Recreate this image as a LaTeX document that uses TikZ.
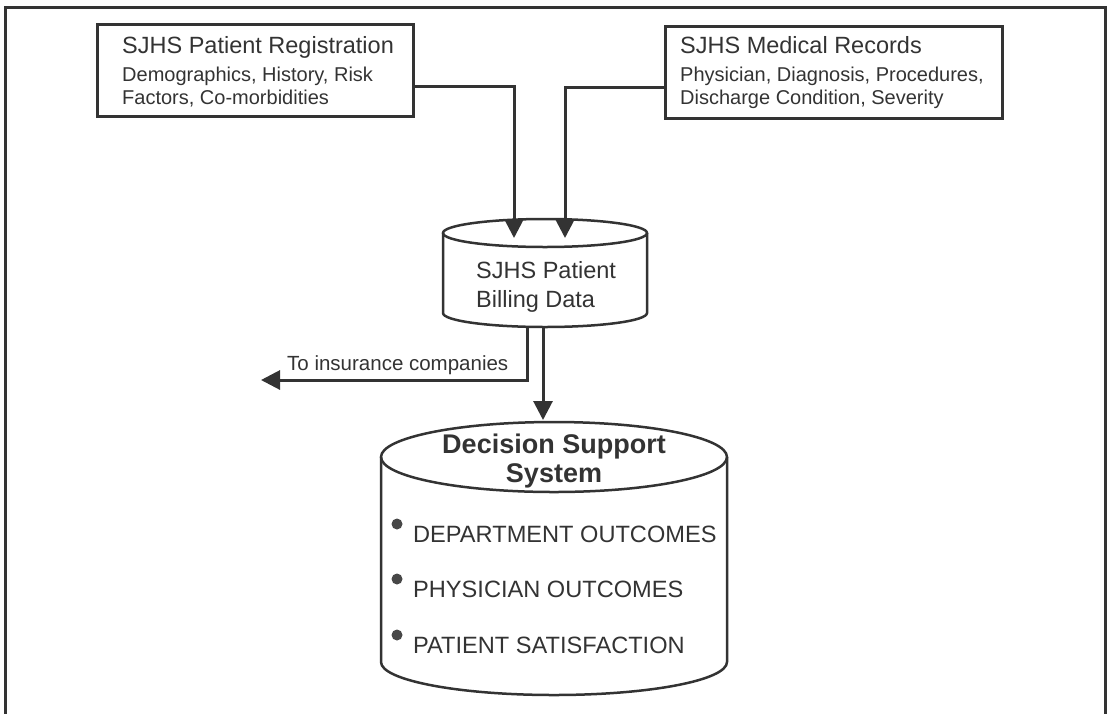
\documentclass[tikz,border=0pt]{standalone}
\usepackage{fontspec}
\setmainfont{Liberation Sans}
\usepackage{tikz}
\usetikzlibrary{calc,arrows.meta,positioning}
\definecolor{ink}{HTML}{333333}

\begin{document}
\begin{tikzpicture}[x=1pt,y=-1pt,
    every node/.style={inner sep=0pt,text=ink},
    srcbox/.style={draw=ink,line width=3pt,minimum height=92pt},
    heading/.style={anchor=base west,font=\fontsize{23.5}{27}\selectfont},
    detail/.style={anchor=base west,font=\fontsize{20}{23}\selectfont},
    item/.style={anchor=base west,font=\fontsize{23.6}{27}\selectfont},
    flow/.style={draw=ink,line width=3pt,-{Triangle[length=19pt,width=19pt]}},
    db/.style={draw=ink,line width=2.5pt}]
    \useasboundingbox (0,0) rectangle (1110,713);
    \draw[ink,line width=3pt] (5,7) rectangle (1105,722);

    % source records
    \node[srcbox,minimum width=316pt] (reg) at (255,70) {};
    \node[heading] (regT) at (122,53) {SJHS Patient Registration};
    \node[detail] (regA) at (122,81) {Demographics, History, Risk};
    \node[detail] (regB) at (122,104) {Factors, Co-morbidities};

    \node[srcbox,minimum width=337pt] (med) at (833.5,72) {};
    \node[heading] (medT) at (680,53) {SJHS Medical Records};
    \node[detail] (medA) at (680,81) {Physician, Diagnosis, Procedures,};
    \node[detail] (medB) at (680,104) {Discharge Condition, Severity};

    % billing data
    \newcommand{\bx}{545};
    \draw[db] (\bx-102,233) -- (\bx-102,313)
        arc[start angle=180,end angle=360,x radius=102pt,y radius=14pt] -- (\bx+102,233);
    \draw[db] (\bx,233) ellipse [x radius=102pt,y radius=14pt];
    \node[heading] (billA) at (476,278) {SJHS Patient};
    \node[heading] (billB) at (476,307) {Billing Data};

    % decision support
    \newcommand{\dx}{554};
    \draw[db] (\dx-173,457) -- (\dx-173,662)
        arc[start angle=180,end angle=360,x radius=173pt,y radius=33pt] -- (\dx+173,457);
    \draw[db] (\dx,457) ellipse [x radius=173pt,y radius=35pt];
    \node[anchor=base,font=\bfseries\fontsize{27}{30}\selectfont] (dssA) at (\dx,453) {Decision Support};
    \node[anchor=base,font=\bfseries\fontsize{27}{30}\selectfont] (dssB) at (\dx,482) {System};
    \foreach \y/\t [count=\i] in {542/DEPARTMENT OUTCOMES,597/PHYSICIAN OUTCOMES,653/PATIENT SATISFACTION}{
        \fill[ink!90] (397,\y-18) circle (5.5pt);
        \node[item] (out\i) at (413,\y) {\t};
    }

    % flows
    \coordinate (regOut) at ($(reg.east)+(0,16)$);
    \coordinate (medOut) at ($(med.west)+(0,15)$);
    \coordinate (inReg) at (514,238);
    \coordinate (inMed) at (565,238);
    \draw[flow] (regOut) -| (inReg);
    \draw[flow] (medOut) -| (inMed);

    \coordinate (billOutA) at (527,326);
    \coordinate (billOutB) at (543,327);
    \coordinate (insurer) at (261,380);
    \coordinate (inDss) at (543,420);
    \draw[flow] (billOutA) |- (insurer);
    \draw[flow] (billOutB) -- (inDss);
    \node[anchor=base west,font=\fontsize{20.5}{24}\selectfont] (insT) at (287,370) {To insurance companies};
\end{tikzpicture}
\end{document}
